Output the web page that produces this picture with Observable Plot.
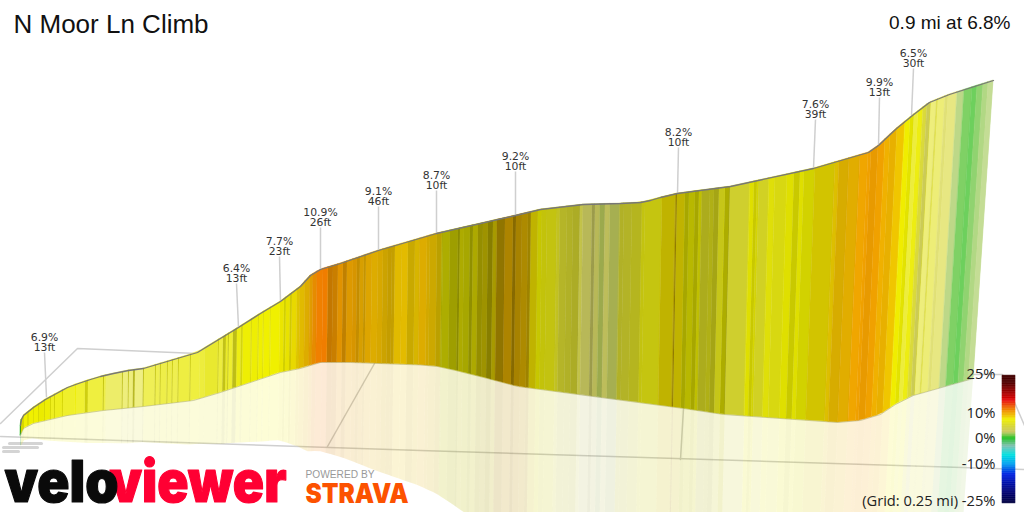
<!DOCTYPE html>
<html>
<head>
<meta charset="utf-8">
<script src="https://cdn.jsdelivr.net/npm/d3@7"></script>
<script src="https://cdn.jsdelivr.net/npm/@observablehq/plot@0.6"></script>
<style>
html,body{margin:0;padding:0;background:#fff;overflow:hidden}
</style>
</head>
<body>
<div id="chart"></div>
<script>
// Ridge of the wall (top edge of the climb)
const topX = [20,21,23,33,45,56,67,78,90,100,113,128,143,170,197,215,238,260,280,300,310,320,340,378,436,515,540,583,620,640,650,660,677,730,813,868,878,895,912,929,949,993];
const topY = [425,419,415,407,399,393,387,383,379,376,373,370,368,360,352,341,327,313,301,286,275,269,263,250,233,215,209,204,203,202,200,197,193,186,168,152,145,129,115,102,94,80];
// Foot of the wall
const footX = [20,23,33,67,103,143,193,220,280,300,320,350,420,437,455,483,517,540,630,683,723,837,860,880,895,913,973];
const footY = [435,428,423,415,410,406,400,392,372,368,362,362,364.5,366,370,377,386,389,401,408,414,422,420,414,404,395,378];
// How far the foot leans left of the ridge
const leanX = [20,500,677,761,860,993];
const leanV = [0,2,4,6,12,20];

// Gradient segments: start along the ridge, grade %, shading (+ darker, - paler)
const stripX = [
20,21,24,27,29,33,34,38,39,44,
45,50,51,54,55,62,63,75,76,85,
88,103,104,106,122,123,128,129,133,135,
143,144,155,156,160,161,167,168,172,173,
178,179,190,191,200,205,218,219,223,226,
228,229,233,237,241,243,251,252,258,259,
263,264,270,271,280,284,286,290,292,297,
300,305,310,313,317,323,328,333,338,343,
347,353,357,360,364,366,372,378,383,388,
392,395,402,408,415,420,427,430,437,442,
443,450,458,460,464,470,473,478,483,488,
493,497,505,513,516,522,528,531,538,542,
547,557,560,567,573,580,583,592,595,600,
605,610,620,624,632,642,645,662,675,676,
677,685,689,695,699,702,710,714,719,725,
730,750,754,757,759,769,775,787,794,800,
804,815,835,839,849,860,868,871,878,885,
890,897,905,910,914,918,923,927,931,936,
938,945,948,957,964,972,977,983,988,993];
const stripGrade = [
0,7.5,7.5,7.5,7.5,7.5,7.5,7.5,7.5,7.5,
7.3,7.3,7.3,7.3,7.3,7.3,7.2,7.2,7.2,6.5,
7,6.5,6.8,6.2,5,6,5,6,5,6,
5,6.8,5.5,6.8,5.5,6.8,5.5,6.8,5.8,6.8,
5.8,6.8,5.8,7,6.8,6.5,6,6.8,6,6.8,
6,7,6,7.2,6.5,7.3,6.8,7.3,6.8,7.5,
7,7.5,7.2,7.5,7.7,7.6,7.7,7.8,8,8.3,
8.8,9.2,10,10.8,11.5,11.6,10.8,10.6,10.4,10.2,
10,10,9.8,9.6,9.4,9.5,9.2,9.2,9,9,
8.9,8.8,8.8,8.7,8.7,9.2,9,8.8,8.6,7.5,
7.5,7.5,7.5,7.6,7.5,7.5,7.7,7.8,8,8,
8.1,8.9,9.3,9.1,9.2,9,8.8,8,7.5,6.8,
6.5,5.5,5,5,5,3.5,2.5,2.5,2.5,2.2,
2.5,2.3,5,5,5.5,6.5,6.5,8,8,8.8,
8,7.5,7.5,7.5,7.5,5.5,6,6,6,7.5,
5,7.5,7.5,7.5,5.5,7,6.5,7.5,7.5,7.5,
7.5,8,8.5,9,9.3,10,10.2,10.3,10.2,9.6,
9.4,8.8,7.6,7.5,6.8,7.2,5,3,6,5,
6,4.2,5,1.8,0.8,0.5,1,1.5,1.8,1.8];
const stripShade = [
.25,.1,0,.08,0,.08,0,.1,.02,.1,
0,.1,-.1,.12,-.1,.1,-.15,0,-.18,.1,
-.22,.15,-.25,-.35,.12,-.42,.12,-.42,.15,-.45,
.15,-.3,.12,-.28,.1,-.25,.1,-.25,.1,-.28,
.1,-.22,.1,-.22,-.2,-.12,.1,-.2,.14,-.1,
.14,-.15,.16,-.05,.08,0,.08,0,.08,0,
.06,0,.05,0,.02,.12,.03,.12,.03,.08,
.06,.08,.06,.04,0,0,.18,.16,.06,.2,
.08,.1,.18,.1,.18,.08,.08,.1,.15,.18,
.18,.06,.05,.16,.1,.08,.12,.15,.22,.3,
.28,.34,.42,.28,.3,.4,.28,.38,.34,.44,
.3,.4,.28,.44,.3,.28,.34,.2,.17,.16,
.15,.12,.16,.18,.2,.05,.08,.22,.08,.15,
.05,.12,.18,.17,.18,.15,.14,.2,.25,.4,
.2,.3,.23,.3,.2,.22,.22,.27,.12,.28,
.04,.07,.16,.1,.05,.05,.06,.07,.16,.07,
.12,.12,.08,.1,.06,0,0,.03,0,0,
.03,0,0,.05,-.2,-.05,-.05,0,-.42,-.2,
-.4,-.3,-.4,-.3,-.22,-.22,-.25,-.3,-.38,-.38];

// Legend ramp: grade % and its colour
const rampGrade = [-25,-21,-14,-10,-6.5,-3,0,1.5,2.5,5,7.5,9,11.5,15,16,22,25];
const rampColor = ["#000040","#000070","#0020e0","#00a0f0","#00e0e0","#80c0b0","#20c020","#90c850","#c8c860","#d8d830","#f0f000","#f0c000","#f08000","#e81010","#d00000","#500000","#400000"];
const legendTicks = [25,10,0,-10];
const legendTickY = [374,413,438,464];
const legendGrades = [25,10,0,-10,-25];
const legendGradeY = [375,413,438,464,503];

// Segment callouts
const noteX = [44,236,279,320,378,436,515,678,815,879,913];
const noteY = [337,268,241,212,191,175,156,132,104,82,53];
const noteGrade = ["6.9%","6.4%","7.7%","10.9%","9.1%","8.7%","9.2%","8.2%","7.6%","9.9%","6.5%"];
const noteGain = ["13ft","13ft","23ft","26ft","46ft","10ft","10ft","10ft","39ft","13ft","30ft"];
const notePointX = [46,238,280,320,378,436,515,677,813,878,911];
const notePointY = [397,327,301,269,250,233,215,193,168,145,115];

// Floor grid and footprint
const gridId = [0,0,0,1,1,1,2,2,3,3,4,4,4];
const gridX = [0,77,197,0,420,1024,374,327,683,680,960,1002,1024];
const gridY = [423,348,353,436,450,469,363,446,408,459,374,374,425];
const padId = [0,0,1,1,2,2];
const padX = [9,41,3,37,3,18];
const padY = [443,443,447,447,451,451];

// Brand words and the widths they occupy
const brandWords = ["velo","viewer","POWERED BY","STRAVA"];
const brandWidths = [114,177,69,103];

const topAt = d3.scaleLinear(topX, topY);
const footAt = d3.scaleLinear(footX, footY);
const leanAt = d3.scaleLinear(leanX, leanV);
const legendAt = d3.scaleLinear(legendGrades, legendGradeY);

const corner = (x, i) => {
  const fx = x - leanAt(x);
  const ty = topAt(x), fy = footAt(fx);
  return {i, g: stripGrade[i], s: stripShade[i], x, ty, fx, fy,
          mx: 2 * fx - x, my: fy + 0.95 * (fy - ty)};
};
const strips = stripGrade.slice(0, stripX.length - 1).flatMap((_, i) => [corner(stripX[i], i), corner(stripX[i + 1], i)]);
const wall = {x1: "x", y1: "ty", x2: "fx", y2: "fy", z: "i"};
const mirror = {x1: "fx", y1: "fy", x2: "mx", y2: "my", z: "i"};
const cells = d3.range(-25, 25, 0.25);
const ui = "'Open Sans'";
const logo = "Inter";

const plot = Plot.plot({
  width: 1024, height: 512, margin: 0,
  x: {domain: [0, 1024], range: [0, 1024], axis: null},
  y: {domain: [0, 512], range: [0, 512], axis: null},
  color: {type: "linear", domain: rampGrade, range: rampColor},
  opacity: {type: "identity"},
  style: {background: "#fff"},
  marks: [
    Plot.line(gridX, {x: gridX, y: gridY, z: gridId, stroke: "#cfcfcf", strokeWidth: 1.5}),
    Plot.line(padX, {x: padX, y: padY, z: padId, stroke: "#d4d4d4", strokeWidth: 3}),
    Plot.area(strips, {...mirror, fill: "g", fillOpacity: 0.16}),
    Plot.area(strips, {...mirror, fill: "#000", fillOpacity: d => Math.max(d.s, 0) * 0.16}),
    Plot.area(strips, {...mirror, fill: "#fff", fillOpacity: d => Math.max(-d.s, 0) * 0.3}),
    Plot.area(strips, {...wall, fill: "g", stroke: "g", strokeWidth: 0.4}),
    Plot.area(strips, {...wall, fill: "#000", fillOpacity: d => Math.max(d.s, 0)}),
    Plot.area(strips, {...wall, fill: "#fff", fillOpacity: d => Math.max(-d.s, 0)}),
    Plot.line(footX, {x: footX, y: footY, stroke: "#808040", strokeOpacity: 0.35, strokeWidth: 1}),
    Plot.link(noteX, {x1: noteX, y1: noteY.map(y => y + 15), x2: notePointX, y2: notePointY, stroke: "#cfcfcf", strokeWidth: 1.5}),
    Plot.line(topX, {x: topX, y: topY, stroke: "#777", strokeWidth: 1.3}),
    Plot.text(noteX, {x: noteX, y: noteY.map(y => y + 5), text: noteGrade.map((g, i) => g + "\n" + noteGain[i]), lineHeight: 0.926, fontFamily: "DejaVu Sans", fontSize: 10.8, fill: "#333"}),
    Plot.rect(cells, {x1: () => 1002, x2: () => 1015, y1: d => legendAt(d + 0.25), y2: d => legendAt(d), fill: d => d, inset: -0.2}),
    Plot.text(legendTicks, {x: () => 995, y: legendTickY, text: d => d + "%", textAnchor: "end", fontFamily: ui, fontSize: 14.7, fill: "#222"}),
    Plot.text(["(Grid: 0.25 mi) -25%"], {x: () => 995, y: () => 501, text: d => d, textAnchor: "end", fontFamily: ui, fontSize: 14.7, fill: "#222"}),
    Plot.text(["N Moor Ln Climb"], {x: () => 13, y: () => 24, text: d => d, textAnchor: "start", fontFamily: "Liberation Sans", fontSize: 26, fill: "#111"}),
    Plot.text(["0.9 mi at 6.8%"], {x: () => 1010, y: () => 22, text: d => d, textAnchor: "end", fontFamily: "Liberation Sans", fontSize: 19, fill: "#111"}),
    Plot.text(["viewer"], {x: () => 109, y: () => 483, text: d => d, textAnchor: "start", fontFamily: logo, fontWeight: 900, fontSize: 58, fill: "#ff0033", stroke: "#ff0033", strokeWidth: 1.2}),
    Plot.text(["velo"], {x: () => 4, y: () => 483, text: d => d, textAnchor: "start", fontFamily: logo, fontWeight: 900, fontSize: 58, fill: "#0a0a0a", stroke: "#0a0a0a", strokeWidth: 1.2}),
    Plot.text(["POWERED BY"], {x: () => 305, y: () => 474, text: d => d, textAnchor: "start", fontFamily: "Liberation Sans", fontSize: 10, fill: "#999"}),
    Plot.text(["STRAVA"], {x: () => 305, y: () => 494, text: d => d, textAnchor: "start", fontFamily: logo, fontWeight: 900, fontSize: 27, fill: "#fc5200"})
  ]
});
d3.select(plot).selectAll("text").each(function () {
  const k = brandWords.indexOf(this.textContent);
  if (k >= 0) {
    this.setAttribute("textLength", brandWidths[k]);
    this.setAttribute("lengthAdjust", "spacingAndGlyphs");
  }
});
document.getElementById("chart").append(plot);
</script>
</body>
</html>
